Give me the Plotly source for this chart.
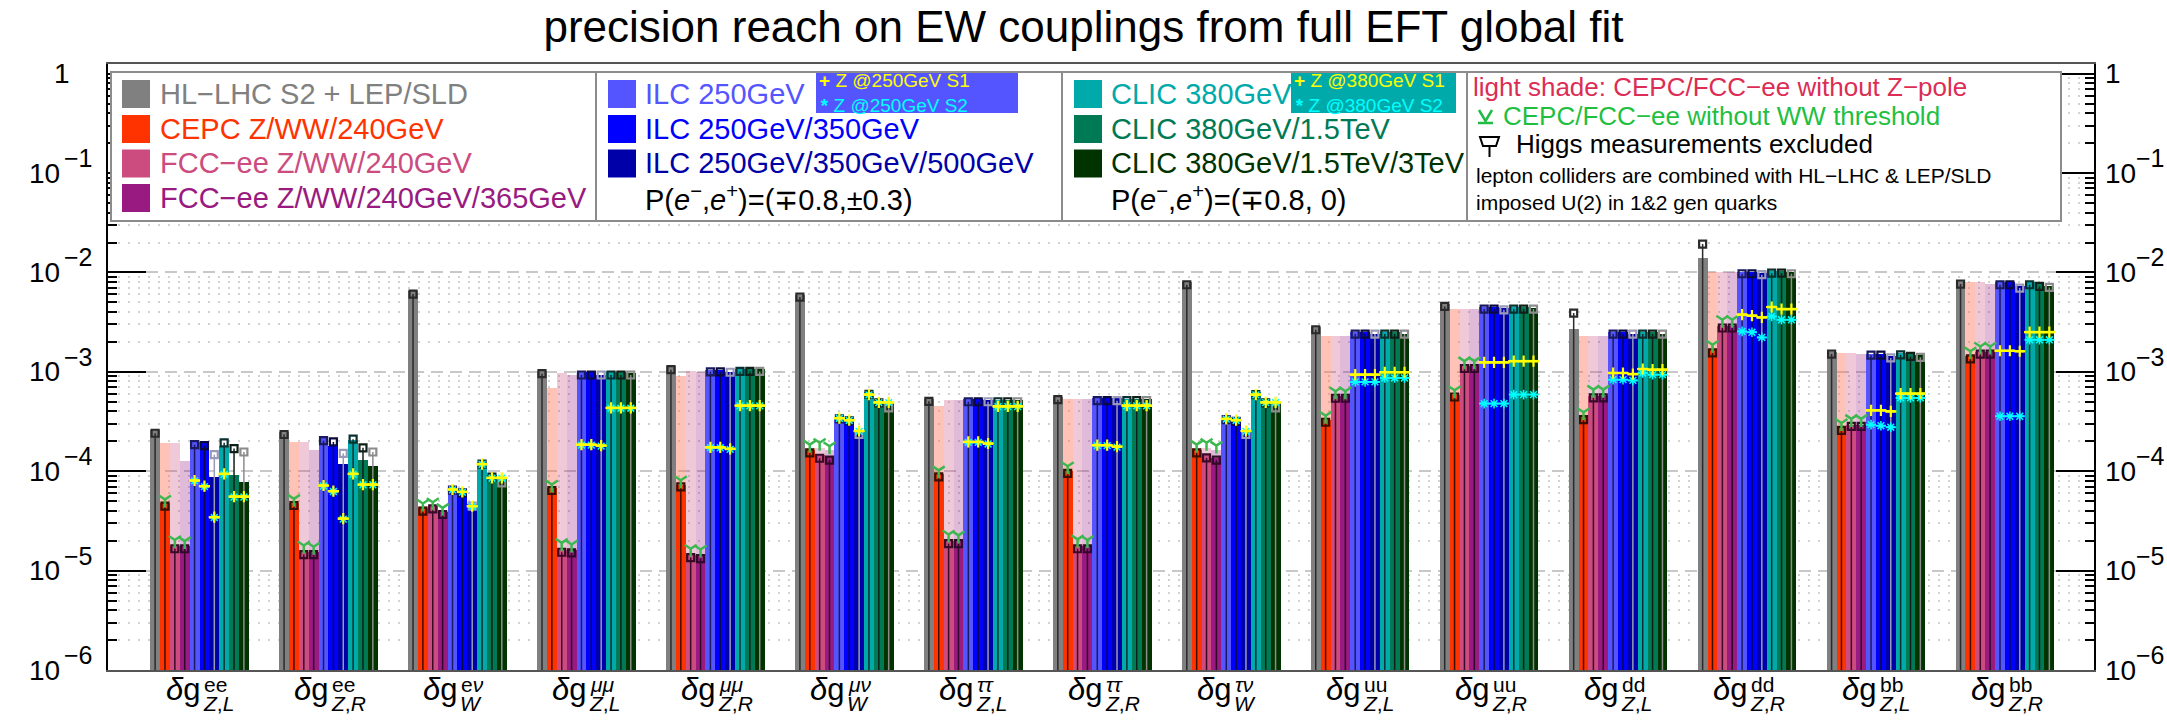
import math
import plotly.graph_objects as go

# ---------------- data ----------------
coupling_sup = ["ee", "ee", "e<i>ν</i>", "<i>μμ</i>", "<i>μμ</i>", "<i>μν</i>",
                "<i>ττ</i>", "<i>ττ</i>", "<i>τν</i>", "uu", "uu", "dd", "dd", "bb", "bb"]
coupling_sub = ["<i>Z</i>,<i>L</i>", "<i>Z</i>,<i>R</i>", "<i>W</i>",
                "<i>Z</i>,<i>L</i>", "<i>Z</i>,<i>R</i>", "<i>W</i>",
                "<i>Z</i>,<i>L</i>", "<i>Z</i>,<i>R</i>", "<i>W</i>",
                "<i>Z</i>,<i>L</i>", "<i>Z</i>,<i>R</i>", "<i>Z</i>,<i>L</i>",
                "<i>Z</i>,<i>R</i>", "<i>Z</i>,<i>L</i>", "<i>Z</i>,<i>R</i>"]

hl = [2.58e-4, 2.48e-4, 6.44e-3, 1.01e-3, 1.135e-3, 5.97e-3, 5.33e-4, 5.58e-4, 8.0e-3, 2.82e-3, 4.84e-3, 2.69e-3, 1.39e-2, 1.58e-3, 8.06e-3]
hl_noH = [2.41e-4, 2.34e-4, 6.05e-3, 9.59e-4, 1.05e-3, 5.65e-3, 5.05e-4, 5.25e-4, 7.52e-3, 2.65e-3, 4.55e-3, 3.9e-3, 1.93e-2, 1.51e-3, 7.64e-3]

cepc = [4.73e-5, 4.81e-5, 4.22e-5, 6.7e-5, 7.34e-5, 1.65e-4, 9.26e-5, 1.0e-4, 1.63e-4, 3.31e-4, 5.9e-4, 3.52e-4, 1.64e-3, 2.73e-4, 1.43e-3]
cepc_noH = [4.45e-5, 4.52e-5, 3.96e-5, 6.4e-5, 6.97e-5, 1.53e-4, 8.77e-5, 9.5e-5, 1.53e-4, 3.11e-4, 5.58e-4, 3.31e-4, 1.55e-3, 2.58e-4, 1.35e-3]
cepc_noWW = [5.2e-5, 5.27e-5, 4.73e-5, 7.34e-5, 8.12e-5, 1.85e-4, 1.02e-4, 1.12e-4, 1.85e-4, 3.62e-4, 6.52e-4, 3.92e-4, 1.87e-3, 3.06e-4, 1.61e-3]
cepc_noZ = [1.90e-4, 1.96e-4, 4.5e-5, 6.93e-4, 9.15e-4, 1.72e-4, 4.57e-4, 5.33e-4, 1.72e-4, 2.31e-3, 4.28e-3, 2.31e-3, 1.0e-2, 1.55e-3, 7.94e-3]

fcc240 = [1.76e-5, 1.53e-5, 4.45e-5, 1.61e-5, 1.42e-5, 1.45e-4, 1.98e-5, 1.76e-5, 1.45e-4, 5.75e-4, 1.135e-3, 5.67e-4, 2.91e-3, 2.94e-4, 1.57e-3]
fcc240_noH = [1.66e-5, 1.45e-5, 4.18e-5, 1.53e-5, 1.35e-5, 1.35e-4, 1.87e-5, 1.66e-5, 1.36e-4, 5.42e-4, 1.08e-3, 5.46e-4, 2.76e-3, 2.83e-4, 1.51e-3]
fcc240_noWW = [2.03e-5, 1.79e-5, 4.88e-5, 1.9e-5, 1.66e-5, 1.93e-4, 2.31e-5, 2.06e-5, 1.93e-4, 6.37e-4, 1.28e-3, 6.62e-4, 3.34e-3, 3.36e-4, 1.80e-3]
fcc240_noZ = [1.90e-4, 1.96e-4, 4.6e-5, 9.73e-4, 1.03e-3, 1.72e-4, 5.25e-4, 5.33e-4, 1.72e-4, 2.31e-3, 4.28e-3, 2.31e-3, 1.02e-2, 1.55e-3, 7.94e-3]

fcc365 = [1.76e-5, 1.53e-5, 3.87e-5, 1.61e-5, 1.42e-5, 1.38e-4, 1.98e-5, 1.76e-5, 1.36e-4, 5.75e-4, 1.135e-3, 5.67e-4, 2.91e-3, 2.94e-4, 1.57e-3]
fcc365_noH = [1.66e-5, 1.45e-5, 3.67e-5, 1.51e-5, 1.32e-5, 1.29e-4, 1.87e-5, 1.66e-5, 1.29e-4, 5.42e-4, 1.08e-3, 5.46e-4, 2.76e-3, 2.83e-4, 1.51e-3]
fcc365_noWW = [1.98e-5, 1.74e-5, 4.28e-5, 1.83e-5, 1.63e-5, 1.78e-4, 2.26e-5, 2.03e-5, 1.81e-4, 6.37e-4, 1.28e-3, 6.62e-4, 3.34e-3, 3.36e-4, 1.80e-3]
fcc365_noZ = [1.28e-4, 1.65e-4, 4.0e-5, 9.37e-4, 9.95e-4, 1.65e-4, 5.25e-4, 5.33e-4, 1.65e-4, 2.31e-3, 4.28e-3, 2.31e-3, 1.02e-2, 1.51e-3, 7.64e-3]

ilc250 = [1.97e-4, 2.16e-4, 6.7e-5, 9.9e-4, 1.05e-3, 3.49e-4, 5.33e-4, 5.42e-4, 3.44e-4, 2.49e-3, 4.49e-3, 2.49e-3, 1.02e-2, 1.52e-3, 7.94e-3]
ilc250_noH = [1.85e-4, 2.03e-4, 6.44e-5, 9.29e-4, 1.0e-3, 3.36e-4, 5.0e-4, 5.13e-4, 3.31e-4, 2.40e-3, 4.28e-3, 2.40e-3, 9.7e-3, 1.47e-3, 7.52e-3]
ilc250_S1 = [8.06e-5, 7.18e-5, 6.55e-5, 1.85e-4, 1.74e-4, 3.42e-4, 1.97e-4, 1.83e-4, 3.36e-4, 9.37e-4, 1.245e-3, 9.73e-4, 3.76e-3, 4.1e-4, 1.63e-3]
ilc250_S2 = [8.0e-5, 7.1e-5, 6.5e-5, 1.83e-4, 1.72e-4, 3.4e-4, 1.95e-4, 1.81e-4, 3.34e-4, 7.91e-4, 4.79e-4, 8.34e-4, 2.55e-3, 2.94e-4, 3.57e-4]

ilc350 = [1.90e-4, 1.78e-4, 6.3e-5, 9.9e-4, 1.05e-3, 3.31e-4, 5.33e-4, 5.42e-4, 3.31e-4, 2.49e-3, 4.49e-3, 2.49e-3, 1.02e-2, 1.52e-3, 7.94e-3]
ilc350_noH = [1.81e-4, 1.97e-4, 6.05e-5, 9.29e-4, 1.0e-3, 3.21e-4, 5.0e-4, 5.13e-4, 3.18e-4, 2.40e-3, 4.28e-3, 2.40e-3, 9.7e-3, 1.47e-3, 7.52e-3]
ilc350_S1 = [7.07e-5, 6.3e-5, 6.2e-5, 1.85e-4, 1.74e-4, 3.26e-4, 1.97e-4, 1.83e-4, 3.26e-4, 9.37e-4, 1.245e-3, 9.73e-4, 3.67e-3, 4.1e-4, 1.63e-3]
ilc350_S2 = [7.0e-5, 6.25e-5, 6.15e-5, 1.83e-4, 1.72e-4, 3.24e-4, 1.95e-4, 1.81e-4, 3.24e-4, 7.91e-4, 4.79e-4, 8.34e-4, 2.5e-3, 2.87e-4, 3.57e-4]

ilc500 = [8.77e-5, 1.17e-4, 4.62e-5, 9.37e-4, 9.95e-4, 2.47e-4, 5.25e-4, 5.42e-4, 2.47e-4, 2.42e-3, 4.38e-3, 2.42e-3, 9.85e-3, 1.43e-3, 7.23e-3]
ilc500_noH = [1.47e-4, 1.51e-4, 4.45e-5, 9.29e-4, 9.9e-4, 2.34e-4, 5.0e-4, 5.13e-4, 2.34e-4, 2.40e-3, 4.2e-3, 2.40e-3, 9.5e-3, 1.38e-3, 6.96e-3]
ilc500_S1 = [3.45e-5, 3.34e-5, 4.45e-5, 1.81e-4, 1.68e-4, 2.54e-4, 1.9e-4, 1.77e-4, 2.54e-4, 9.37e-4, 1.245e-3, 9.5e-4, 3.53e-3, 4.0e-4, 1.61e-3]
ilc500_S2 = [3.42e-5, 3.3e-5, 4.4e-5, 1.79e-4, 1.66e-4, 2.52e-4, 1.88e-4, 1.75e-4, 2.52e-4, 7.91e-4, 4.79e-4, 8.2e-4, 2.22e-3, 2.77e-4, 3.57e-4]

clic380 = [1.81e-4, 2.08e-4, 1.23e-4, 9.9e-4, 1.07e-3, 6.22e-4, 5.25e-4, 5.33e-4, 6.22e-4, 2.49e-3, 4.49e-3, 2.49e-3, 1.04e-2, 1.55e-3, 7.94e-3]
clic380_noH = [1.93e-4, 2.1e-4, 1.18e-4, 9.29e-4, 1.01e-3, 5.94e-4, 5.0e-4, 5.13e-4, 5.9e-4, 2.40e-3, 4.28e-3, 2.40e-3, 9.85e-3, 1.48e-3, 7.52e-3]
clic380_S1 = [9.4e-5, 9.4e-5, 1.18e-4, 4.33e-4, 4.57e-4, 5.9e-4, 4.5e-4, 4.57e-4, 5.9e-4, 9.9e-4, 1.28e-3, 1.067e-3, 4.49e-3, 6.04e-4, 2.51e-3]
clic380_S2 = [9.3e-5, 9.3e-5, 1.17e-4, 4.3e-4, 4.54e-4, 5.87e-4, 4.47e-4, 4.54e-4, 5.87e-4, 8.67e-4, 5.9e-4, 9.73e-4, 3.61e-3, 5.46e-4, 2.1e-3]

clic1500 = [9.12e-5, 1.31e-4, 9.05e-5, 9.9e-4, 1.07e-3, 5.05e-4, 5.25e-4, 5.33e-4, 5.05e-4, 2.49e-3, 4.49e-3, 2.49e-3, 1.04e-2, 1.51e-3, 7.64e-3]
clic1500_noH = [1.69e-4, 1.72e-4, 8.71e-5, 9.29e-4, 1.01e-3, 4.86e-4, 5.0e-4, 5.13e-4, 4.86e-4, 2.40e-3, 4.28e-3, 2.40e-3, 9.85e-3, 1.43e-3, 7.23e-3]
clic1500_S1 = [5.56e-5, 7.34e-5, 8.57e-5, 4.33e-4, 4.57e-4, 4.93e-4, 4.5e-4, 4.57e-4, 4.93e-4, 9.9e-4, 1.28e-3, 1.05e-3, 4.28e-3, 6.04e-4, 2.51e-3]
clic1500_S2 = [5.5e-5, 7.3e-5, 8.5e-5, 4.3e-4, 4.54e-4, 4.9e-4, 4.47e-4, 4.54e-4, 4.9e-4, 8.67e-4, 5.9e-4, 9.37e-4, 3.34e-3, 5.46e-4, 2.1e-3]

clic3000 = [7.82e-5, 1.14e-4, 8.77e-5, 9.73e-4, 1.07e-3, 4.86e-4, 5.25e-4, 5.33e-4, 4.86e-4, 2.42e-3, 4.38e-3, 2.42e-3, 1.02e-2, 1.46e-3, 7.35e-3]
clic3000_noH = [1.56e-4, 1.56e-4, 7.64e-5, 9.29e-4, 1.01e-3, 4.33e-4, 5.0e-4, 5.13e-4, 4.33e-4, 2.40e-3, 4.28e-3, 2.40e-3, 9.7e-3, 1.40e-3, 7.07e-3]
clic3000_S1 = [5.56e-5, 7.34e-5, 8.57e-5, 4.33e-4, 4.57e-4, 4.93e-4, 4.5e-4, 4.57e-4, 4.93e-4, 9.9e-4, 1.28e-3, 1.05e-3, 4.28e-3, 6.04e-4, 2.51e-3]
clic3000_S2 = [5.5e-5, 7.3e-5, 8.5e-5, 4.3e-4, 4.54e-4, 4.9e-4, 4.47e-4, 4.54e-4, 4.9e-4, 8.67e-4, 5.9e-4, 9.37e-4, 3.34e-3, 5.46e-4, 2.1e-3]

legend_sec1 = ["HL−LHC S2 + LEP/SLD", "CEPC Z/WW/240GeV", "FCC−ee Z/WW/240GeV", "FCC−ee Z/WW/240GeV/365GeV"]
legend_sec2 = ["ILC 250GeV", "ILC 250GeV/350GeV", "ILC 250GeV/350GeV/500GeV"]
legend_sec3 = ["CLIC 380GeV", "CLIC 380GeV/1.5TeV", "CLIC 380GeV/1.5TeV/3TeV"]
y_tickvals = [1e-6, 1e-5, 1e-4, 1e-3, 1e-2, 1e-1, 1]
y_exponents = ["−6", "−5", "−4", "−3", "−2", "−1", None]

# ---------------- styling ----------------
FONT = "Liberation Sans, Arial, Helvetica, sans-serif"
bar_colors = ["#808080", "#ff3300", "#cc4c80", "#991a80", "#5555ff", "#0000ff",
              "#0000a8", "#00aaaa", "#007a55", "#003300"]
mark_colors = ["#2a2a2a", "#3a0e00", "#3a0a28", "#300a28", "#1a1a60", "#0a0a40",
               "#9a9ab8", "#0a3030", "#102018", "#8c8c8c"]
light_colors = ["rgba(255,110,80,0.42)", "rgba(204,76,128,0.30)", "rgba(153,26,128,0.30)"]
GREEN = "#3cb850"

series = [hl, cepc, fcc240, fcc365, ilc250, ilc350, ilc500, clic380, clic1500, clic3000]
series_noH = [hl_noH, cepc_noH, fcc240_noH, fcc365_noH, ilc250_noH, ilc350_noH,
              ilc500_noH, clic380_noH, clic1500_noH, clic3000_noH]
lights = [cepc_noZ, fcc240_noZ, fcc365_noZ]
noWWs = [cepc_noWW, fcc240_noWW, fcc365_noWW]
S1s = [ilc250_S1, ilc350_S1, ilc500_S1, clic380_S1, clic1500_S1, clic3000_S1]
S2s = [ilc250_S2, ilc350_S2, ilc500_S2, clic380_S2, clic1500_S2, clic3000_S2]

n_groups = len(hl)
BW = 0.0765


def bar_x(k):
    return [i + (k - 4.5) * BW for i in range(n_groups)]


fig = go.Figure()

for j, vals in enumerate(lights):
    fig.add_trace(go.Bar(x=bar_x(j + 1), y=vals, base=1e-7, width=BW,
                         marker=dict(color=light_colors[j], line=dict(width=0)),
                         showlegend=False, hoverinfo="skip"))

for k, vals in enumerate(series):
    fig.add_trace(go.Bar(x=bar_x(k), y=vals, base=1e-7, width=BW,
                         marker=dict(color=bar_colors[k], line=dict(width=0)),
                         showlegend=False, hoverinfo="skip"))

for k, vals in enumerate(series_noH):
    xs, ys = [], []
    for xc, v in zip(bar_x(k), vals):
        xs += [xc, xc, None]
        ys += [1e-6, v, None]
    fig.add_trace(go.Scatter(x=xs, y=ys, mode="lines",
                             line=dict(color=mark_colors[k], width=1.5),
                             showlegend=False, hoverinfo="skip"))
for k, vals in enumerate(series_noH):
    fig.add_trace(go.Scatter(x=bar_x(k), y=vals, mode="markers",
                             marker=dict(symbol="square-open", size=7, color=mark_colors[k],
                                         line=dict(width=2.2, color=mark_colors[k])),
                             showlegend=False, hoverinfo="skip"))

for j, vals in enumerate(noWWs):
    fig.add_trace(go.Scatter(x=bar_x(j + 1), y=vals, mode="markers",
                             marker=dict(symbol="y-down-open", size=10, color=GREEN,
                                         line=dict(width=2.5, color=GREEN)),
                             showlegend=False, hoverinfo="skip"))


def seg_trace(vals_list, color, width, symbol, msize, mwidth):
    xs, ys, mx, my = [], [], [], []
    for j, vals in enumerate(vals_list):
        for xc, v in zip(bar_x(j + 4), vals):
            xs += [xc - BW / 2, xc + BW / 2, None]
            ys += [v, v, None]
            mx.append(xc)
            my.append(v)
    fig.add_trace(go.Scatter(x=xs, y=ys, mode="lines", line=dict(color=color, width=width),
                             showlegend=False, hoverinfo="skip"))
    fig.add_trace(go.Scatter(x=mx, y=my, mode="markers",
                             marker=dict(symbol=symbol, size=msize, color=color,
                                         line=dict(width=mwidth, color=color)),
                             showlegend=False, hoverinfo="skip"))


seg_trace(S2s, "#00ffff", 2.0, "asterisk-open", 8, 1.5)
seg_trace(S1s, "#ffff00", 2.5, "cross-thin-open", 8, 2.2)

fig.add_trace(go.Scatter(x=[None], y=[None], yaxis="y2", showlegend=False, hoverinfo="skip"))

# ---------------- layout ----------------
L, R, T, B = 108, 2094, 64, 670


def px(X):
    return (X - L) / (R - L)


def py(Y):
    return (B - Y) / (B - T)


minor_vals = [m * 10 ** e for e in range(-6, 0) for m in range(2, 10)]

yax_common = dict(
    type="log", range=[-6, 0.097], tickvals=y_tickvals, showticklabels=False,
    ticks="inside", ticklen=38, tickwidth=2, tickcolor="black",
    showline=True, linecolor="black", linewidth=2, zeroline=False,
)

fig.update_layout(
    width=2167, height=723,
    margin=dict(l=L, r=2167 - R, t=T, b=723 - B),
    paper_bgcolor="white", plot_bgcolor="white",
    barmode="overlay", bargap=0,
    showlegend=False,
    font=dict(family=FONT),
    title=dict(text="precision reach on EW couplings from full EFT global fit",
               x=0.5, xanchor="center", y=1 - 27 / 723, yanchor="middle", yref="container",
               font=dict(family=FONT, size=44, color="black")),
    xaxis=dict(range=[(L - 199.5) / 128.96, (R - 199.5) / 128.96], showgrid=False,
               zeroline=False, showticklabels=False, ticks="", showline=True,
               linecolor="#555555", linewidth=2, mirror=True),
    yaxis=dict(**yax_common, showgrid=True, gridcolor="#c8c8c8", gridwidth=1.5,
               griddash="12px,7px",
               minor=dict(tickvals=minor_vals, ticks="inside", ticklen=9, tickwidth=1.5,
                          tickcolor="black", showgrid=True, gridcolor="#d2d2d2",
                          gridwidth=1.5, griddash="2px,8px")),
    yaxis2=dict(**yax_common, overlaying="y", side="right", showgrid=False,
                minor=dict(tickvals=minor_vals, ticks="inside", ticklen=9, tickwidth=1.5,
                           tickcolor="black", showgrid=False)),
)

shapes = []
annotations = []

# y tick labels (10 with full-size exponent, as in the original)
TICK_FS, EXP_FS = 28, 25
for v, e in zip(y_tickvals, y_exponents):
    ylog = math.log10(v)
    if e is None:
        annotations.append(dict(x=px(72), y=ylog, xref="paper", yref="y", text="1",
                                showarrow=False, xanchor="right", yanchor="middle",
                                font=dict(family=FONT, size=TICK_FS, color="black")))
        annotations.append(dict(x=px(2103), y=ylog, xref="paper", yref="y", text="1",
                                showarrow=False, xanchor="left", yanchor="middle",
                                font=dict(family=FONT, size=TICK_FS, color="black")))
        continue
    for (xb, xe) in [(62, 62), (2103, 2134)]:
        annotations.append(dict(x=px(xb), y=ylog, xref="paper", yref="y", text="10",
                                showarrow=False,
                                xanchor="right" if xb < L else "left", yanchor="middle",
                                font=dict(family=FONT, size=TICK_FS, color="black")))
        annotations.append(dict(x=px(xe), y=ylog, xref="paper", yref="y", text=e,
                                showarrow=False, xanchor="left", yanchor="middle", yshift=15,
                                font=dict(family=FONT, size=EXP_FS, color="black")))

LX0, LX1, LY0, LY1 = 111, 2061, 72, 221
DIV = [596, 1062, 1467]
shapes.append(dict(type="rect", xref="paper", yref="paper", x0=px(LX0), x1=px(LX1),
                   y0=py(LY1), y1=py(LY0), fillcolor="white",
                   line=dict(color="#8c8c8c", width=2), layer="above"))
for dx in DIV:
    shapes.append(dict(type="line", xref="paper", yref="paper", x0=px(dx), x1=px(dx),
                       y0=py(LY1), y1=py(LY0), line=dict(color="#8c8c8c", width=2),
                       layer="above"))

row_y = [94, 129, 163.5, 198]
SQ = 14


def square(x0, yc, color):
    shapes.append(dict(type="rect", xref="paper", yref="paper", x0=px(x0), x1=px(x0 + 28),
                       y0=py(yc + SQ), y1=py(yc - SQ), fillcolor=color,
                       line=dict(width=0), layer="above"))


def text(X, Y, s, color="black", size=29, anchor="left"):
    annotations.append(dict(x=px(X), y=py(Y), xref="paper", yref="paper", text=s,
                            showarrow=False, xanchor=anchor, yanchor="middle",
                            font=dict(family=FONT, size=size, color=color)))


for r, s in enumerate(legend_sec1):
    square(122, row_y[r], bar_colors[r])
    text(158, row_y[r], s, bar_colors[r])
for r, s in enumerate(legend_sec2):
    square(608, row_y[r], bar_colors[4 + r])
    text(643, row_y[r], s, bar_colors[4 + r])
text(643, row_y[3], "P(<i>e</i><sup>−</sup>,<i>e</i><sup>+</sup>)=(∓0.8,±0.3)")
for r, s in enumerate(legend_sec3):
    square(1074, row_y[r], bar_colors[7 + r])
    text(1109, row_y[r], s, bar_colors[7 + r])
text(1109, row_y[3], "P(<i>e</i><sup>−</sup>,<i>e</i><sup>+</sup>)=(∓0.8, 0)")

# Z-pole insets
for (bx0, bx1, col, lab) in [(816, 1018, "#5555ff", "250"), (1291, 1456, "#00aaaa", "380")]:
    shapes.append(dict(type="rect", xref="paper", yref="paper", x0=px(bx0), x1=px(bx1),
                       y0=py(113), y1=py(73), fillcolor=col, line=dict(width=0),
                       layer="above"))
    text(bx0 + 1, 93,
         "<span style='color:#ffff00'><b>+</b> Z @" + lab + "GeV S1</span><br>"
         "<span style='color:#00ffff'><b>*</b> Z @" + lab + "GeV S2</span>",
         "#ffff00", 19)

# section 4
S4 = DIV[2]
text(S4 + 4, 87, "light shade: CEPC/FCC−ee without Z−pole", "#dc2d55", 26)
gx = S4 + 12
shapes.append(dict(type="path", xref="paper", yref="paper", layer="above",
                   path=f"M{px(gx)},{py(110)} L{px(gx + 6.5)},{py(121)} L{px(gx + 13)},{py(110)}",
                   line=dict(color="#22bb44", width=2.5)))
shapes.append(dict(type="line", xref="paper", yref="paper", layer="above",
                   x0=px(gx - 1), x1=px(gx + 14), y0=py(123), y1=py(123),
                   line=dict(color="#22bb44", width=2.5)))
text(gx + 22, 116, "CEPC/FCC−ee without WW threshold", "#1fbf3f", 26)
hx = S4 + 13
shapes.append(dict(type="path", xref="paper", yref="paper", layer="above",
                   path=(f"M{px(hx)},{py(137)} L{px(hx + 19)},{py(137)} L{px(hx + 16)},{py(146)} "
                         f"L{px(hx + 3)},{py(146)} Z M{px(hx + 9.5)},{py(146)} L{px(hx + 9.5)},{py(157)}"),
                   line=dict(color="black", width=2)))
text(hx + 34, 144, "Higgs measurements excluded", "black", 26)
text(S4 + 7, 175, "lepton colliders are combined with HL−LHC &amp; LEP/SLD", "black", 21)
text(S4 + 7, 202, "imposed U(2) in 1&amp;2 gen quarks", "black", 21)

# category labels
for i in range(n_groups):
    annotations.append(dict(x=i, xref="x", xshift=2, y=py(689.5), yref="paper",
                            text="<i>δ</i>g", showarrow=False, xanchor="right",
                            yanchor="middle", font=dict(family=FONT, size=31, color="black")))
    annotations.append(dict(x=i, xref="x", xshift=2, y=py(684.5), yref="paper",
                            text=coupling_sup[i], showarrow=False, xanchor="left",
                            yanchor="middle", font=dict(family=FONT, size=21, color="black")))
    annotations.append(dict(x=i, xref="x", xshift=1, y=py(704), yref="paper",
                            text=coupling_sub[i], showarrow=False, xanchor="left",
                            yanchor="middle", font=dict(family=FONT, size=21, color="black")))

fig.update_layout(shapes=shapes, annotations=annotations)
fig.write_html("out.html")
